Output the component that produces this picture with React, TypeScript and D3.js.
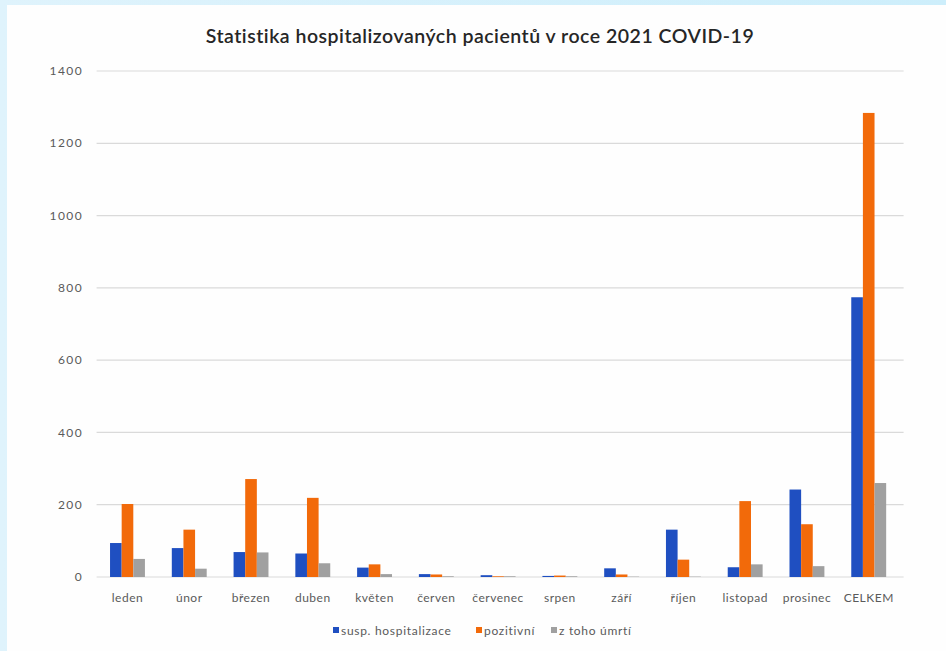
import React, { useEffect, useRef } from 'react';
import * as d3 from 'd3';

const categories = [
  'leden', 'únor', 'březen', 'duben', 'květen', 'červen', 'červenec',
  'srpen', 'září', 'říjen', 'listopad', 'prosinec', 'CELKEM',
];
const suspHospitalizace = [94, 80, 69, 65, 26, 8, 5, 3, 24, 131, 27, 242, 774];
const pozitivni = [202, 131, 271, 219, 35, 7, 2, 4, 7, 48, 210, 146, 1284];
const umrti = [50, 23, 68, 38, 8, 2, 2, 2, 1, 1, 35, 30, 260];
const seriesNames = ['susp. hospitalizace', 'pozitivní', 'z toho úmrtí'];
const seriesColors = ['#1f4fc1', '#f26a0a', '#a0a0a0'];
const yTicks = [0, 200, 400, 600, 800, 1000, 1200, 1400];

const W = 946;
const H = 651;

const App = () => {
  const ref = useRef<SVGSVGElement>(null);

  useEffect(() => {
    const svg = d3.select(ref.current);
    svg.selectAll('*').remove();

    const font = 'Lato, "Open Sans", sans-serif';

    // background: light blue frame, white panel
    const grad = svg.append('defs').append('linearGradient').attr('id', 'bg').attr('x1', 0).attr('x2', 1);
    grad.append('stop').attr('offset', 0).attr('stop-color', '#dff3fc');
    grad.append('stop').attr('offset', 1).attr('stop-color', '#cdeefb');
    svg.append('rect').attr('width', W).attr('height', H).attr('fill', 'url(#bg)');
    svg.append('rect').attr('x', 7).attr('y', 5).attr('width', W - 7).attr('height', H - 5).attr('fill', '#fefefe');

    const left = 96.6;
    const right = 899.6;
    const top = 71;
    const bottom = 577;

    const x = d3.scaleBand<string>().domain(categories).range([left, right]).padding(0);
    const y = d3.scaleLinear().domain([0, 1400]).range([bottom, top]);

    const groupW = x.bandwidth() * 0.565;
    const x1 = d3.scaleBand<number>().domain([0, 1, 2]).range([0, groupW]).padding(0);

    // grid
    svg.append('g')
      .selectAll('line')
      .data(yTicks)
      .join('line')
      .attr('x1', left)
      .attr('x2', right + 4)
      .attr('y1', d => y(d))
      .attr('y2', d => y(d))
      .attr('stroke', '#dadada')
      .attr('stroke-width', 1.2);

    svg.append('g')
      .selectAll('text')
      .data(yTicks)
      .join('text')
      .attr('x', 83)
      .attr('y', d => y(d))
      .attr('dy', '0.35em')
      .attr('text-anchor', 'end')
      .attr('font-family', font)
      .attr('font-size', 12)
      .attr('letter-spacing', 1.4)
      .attr('fill', '#5a5a5a')
      .text(d => d);

    const series = [suspHospitalizace, pozitivni, umrti];
    series.forEach((vals, si) => {
      svg.append('g')
        .selectAll('rect')
        .data(vals)
        .join('rect')
        .attr('x', (d, i) => x(categories[i])! + (x.bandwidth() - groupW) / 2 + x1(si)!)
        .attr('width', x1.bandwidth())
        .attr('y', d => y(d))
        .attr('height', d => bottom - y(d))
        .attr('fill', seriesColors[si]);
    });

    // x labels
    svg.append('g')
      .selectAll('text')
      .data(categories)
      .join('text')
      .attr('x', d => x(d)! + x.bandwidth() / 2)
      .attr('y', 602)
      .attr('text-anchor', 'middle')
      .attr('font-family', font)
      .attr('font-size', 12)
      .attr('letter-spacing', 0.5)
      .attr('fill', '#5a5a5a')
      .text(d => d);

    // title
    svg.append('text')
      .attr('x', 480)
      .attr('y', 43)
      .attr('text-anchor', 'middle')
      .attr('font-family', font)
      .attr('font-size', 19.5)
      .attr('font-weight', 600)
      .attr('letter-spacing', 0.5)
      .attr('fill', '#262626')
      .text('Statistika hospitalizovaných pacientů v roce 2021 COVID-19');

    // legend
    const legendX = [333, 476, 551];
    const legend = svg.append('g');
    seriesNames.forEach((name, i) => {
      legend.append('rect')
        .attr('x', legendX[i])
        .attr('y', 627)
        .attr('width', 6)
        .attr('height', 6)
        .attr('fill', seriesColors[i]);
      legend.append('text')
        .attr('x', legendX[i] + 8)
        .attr('y', 635)
        .attr('font-family', font)
        .attr('font-size', 12)
        .attr('letter-spacing', 0.7)
        .attr('fill', '#5a5a5a')
        .text(name);
    });
  }, []);

  return (
    <svg
      ref={ref}
      width={W}
      height={H}
      style={{ position: 'absolute', left: 0, top: 0, display: 'block' }}
    ></svg>
  );
};

export default App;
